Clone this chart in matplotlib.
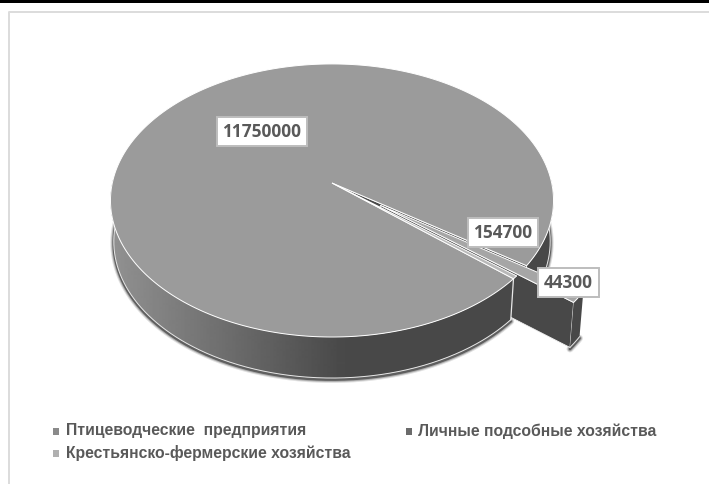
"""
Exploded 3D pie of poultry stock by farm type, drawn in pixel coordinates
"""

import numpy as np
import matplotlib.pyplot as plt
from matplotlib.patches import Polygon, Rectangle

plt.rcParams['font.family'] = ['Liberation Sans', 'DejaVu Sans']

categories = ['Птицеводческие  предприятия', 'Личные подсобные хозяйства',
              'Крестьянско-фермерские хозяйства']
values = [11750000, 154700, 44300]
value_labels = ['11750000', '154700', '44300']

W, H = 709, 484
CX, CY = 332, 183      # where the pie centre lands in the picture
A, B = 219.7, 134.3    # plane radii before perspective
K = 0.128              # perspective strength, far side shrinks
DEPTH = 41             # height of the pie wall
EXPLODE = 0.27         # share of the radius the second slice moves out
START = -40.8          # the big slice starts here and runs clockwise

TOP = '#9b9b9b'
WALL = '#484848'


def project(u, v, drop=0):
    """Map a point of the pie plane (unit circle) to picture pixels"""
    w = 1 + K * v
    x = A * u / w
    y = -B * v / w
    if drop:
        x = x * 0.985
    return CX + x, CY + y + drop


def rim_xy(angle, offset=(0, 0), drop=0):
    a = np.radians(angle)
    return project(np.cos(a) + offset[0], np.sin(a) + offset[1], drop)


def top_face(ax, a0, a1, color, offset=(0, 0), zorder=5):
    """Slice of the top face between angles a0 and a1"""
    x, y = rim_xy(np.linspace(a0, a1, 500), offset)
    px, py = project(offset[0], offset[1])
    ax.fill(np.r_[px, x], np.r_[py, y], facecolor=color, edgecolor='white',
            linewidth=0.7, zorder=zorder)


def rim(ax, a0, a1, offset=(0, 0), drop=DEPTH, shaded=False, zorder=2):
    """Outer wall between two angles, with a soft shadow under it"""
    t = np.linspace(a0, a1, 400)
    x0, y0 = rim_xy(t, offset)
    x1, y1 = rim_xy(t, offset, drop)
    poly = Polygon(np.c_[np.r_[x0, x1[::-1]], np.r_[y0, y1[::-1]]], closed=True,
                   facecolor=WALL, edgecolor='none', zorder=zorder)
    ax.add_patch(poly)
    if shaded:
        # horizontal gradient, light at the far left, dark from the front on
        xs = np.linspace(105, 345, 240)
        grad = np.interp(xs, [112, 340], [0.57, 0.29])[None, :]
        im = ax.imshow(grad, extent=[105, 345, H, 0], cmap='gray', vmin=0, vmax=1,
                       aspect='auto', zorder=zorder + 0.1, interpolation='bilinear')
        im.set_clip_path(poly)
    for w, alpha in [(5, 0.12), (3.5, 0.22), (2, 0.45)]:
        ax.plot(x1, y1 + 1.5, color='black', alpha=alpha, linewidth=w, zorder=zorder - 0.3,
                solid_capstyle='round')
    ax.plot(x1, y1, color='#e8e8e8', linewidth=0.7, zorder=zorder + 0.2)


def cut_wall(ax, angle, offset=(0, 0), drop=DEPTH, zorder=3):
    """Flat inner wall from the pie centre out along one angle"""
    x0, y0 = project(offset[0], offset[1])
    x1, y1 = rim_xy(angle, offset)
    x2, y2 = rim_xy(angle, offset, drop)
    x3, y3 = project(offset[0], offset[1], drop)
    ax.fill([x0, x1, x2, x3], [y0, y1, y2, y3], facecolor=WALL, edgecolor='#f0f0f0',
            linewidth=0.6, zorder=zorder)


def label(ax, cx, cy, w, h, text):
    ax.add_patch(Rectangle((cx - w / 2, cy - h / 2), w, h, facecolor='white',
                           edgecolor='#bdbdbd', linewidth=1.4, zorder=20))
    ax.text(cx, cy + 0.5, text, ha='center', va='center', fontsize=12.4, fontweight='bold',
            family='Open Sans', color='#595959', zorder=21)


fig = plt.figure(figsize=(W / 100, H / 100), dpi=100, facecolor='white')
ax = fig.add_axes([0, 0, 1, 1])

# black band and chart frame
ax.add_patch(Rectangle((0, 0), W, 3, facecolor='black', edgecolor='none'))
ax.plot([W, 8.5, 8.5], [11.5, 11.5, H], color='#dcdcdc', linewidth=1.4)

# slice angles come straight from the values, going clockwise from START
spans = 360 * np.array(values) / sum(values)
main_end = START - spans[0] + 360
a1_end = main_end - spans[1]
a2_end = a1_end - spans[2]

mid = np.radians((main_end + a1_end) / 2)
offset = (EXPLODE * np.cos(mid), EXPLODE * np.sin(mid))

# back part of the wall and the far cut face seen through the gap
rim(ax, main_end, 2, zorder=1.5)
cut_wall(ax, main_end, zorder=1.8)

# pulled-out slice walls sit behind the front of the big slice
cut_wall(ax, a1_end, offset, drop=DEPTH + 4, zorder=2.5)
rim(ax, a1_end, main_end, offset, drop=DEPTH + 4, zorder=2.7)

# front wall of the big slice with its white end line
rim(ax, -182, a2_end, shaded=True, zorder=3)
ex0, ey0 = rim_xy(a2_end)
ex1, ey1 = rim_xy(a2_end, drop=DEPTH)
ax.plot([ex0, ex1], [ey0, ey1], color='#e8e8e8', linewidth=0.9, zorder=4)

top_face(ax, START, main_end - 360, TOP, zorder=5)

# sliver stays in place, second slice on top of everything
top_face(ax, a2_end, a1_end, '#b8b8b8', zorder=6)
top_face(ax, a1_end, main_end, '#a6a6a6', offset=offset, zorder=8)

ax.set_xlim(0, W)
ax.set_ylim(H, 0)
ax.axis('off')

label(ax, 262, 131.5, 90, 29, value_labels[0])
label(ax, 503, 232.5, 70, 29, value_labels[1])
label(ax, 568.5, 282.5, 61, 29, value_labels[2])

# legend
legend_pos = [(55.5, 431), (408.5, 431), (55.5, 453)]
legend_colors = ['#8a8a8a', '#6b6b6b', '#b0b0b0']
for name, (x, y), col in zip(categories, legend_pos, legend_colors):
    ax.add_patch(Rectangle((x - 3, y - 3.5), 6, 7, facecolor=col, edgecolor='none'))
    ax.text(x + 10, y, name, ha='left', va='center', fontsize=11.3, fontweight='bold',
            color='#595959')

fig.savefig('out.png', dpi=100, facecolor='white')
plt.close(fig)
